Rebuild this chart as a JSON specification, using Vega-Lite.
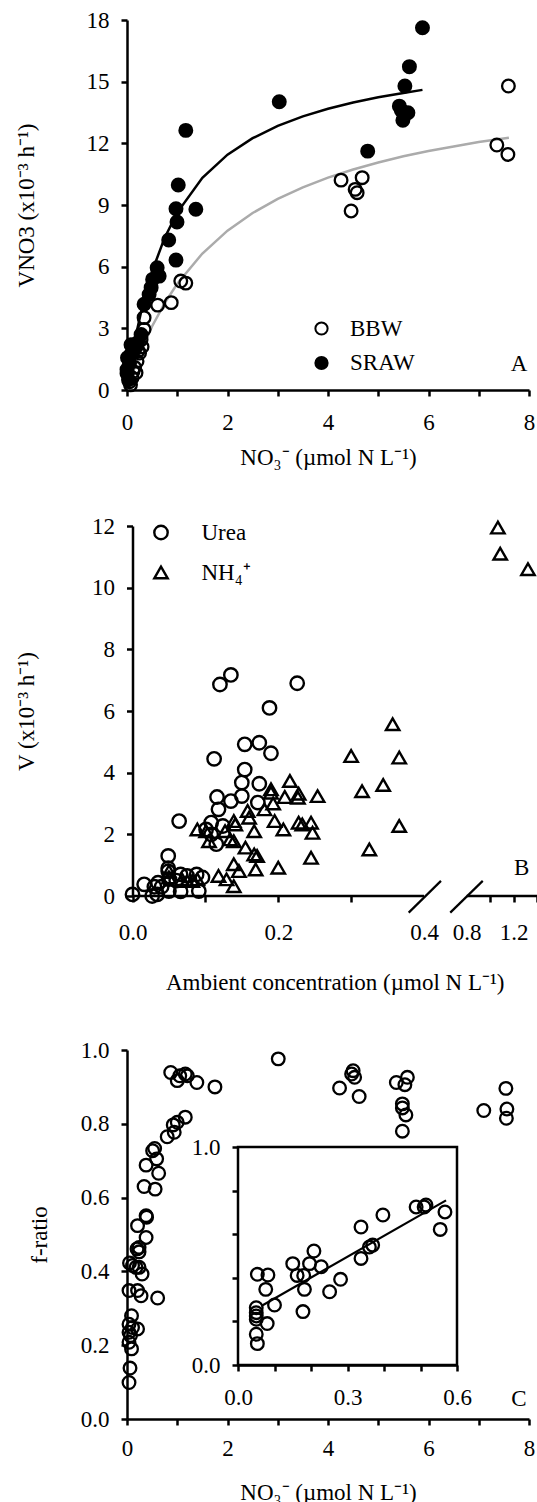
{
  "$schema": "https://vega.github.io/schema/vega-lite/v6.json",
  "padding": {"left": 15, "top": 9, "right": 0, "bottom": 0},
  "background": "white",
  "bounds": "flush",
  "spacing": 136,
  "resolve": {"legend": {"fill": "independent", "shape": "independent"}},
  "config": {
    "font": "Liberation Serif",
    "view": {"stroke": null},
    "axis": {"grid": false, "domainColor": "black", "domainWidth": 2.5, "tickColor": "black", "tickWidth": 2.5, "tickSize": 6,
      "labelFont": "Liberation Serif", "labelFontSize": 23, "labelColor": "black",
      "titleFont": "Liberation Serif", "titleFontSize": 23, "titleFontWeight": "normal", "titleColor": "black",
      "labelFlush": false, "labelOverlap": false},
    "legend": {"labelFont": "Liberation Serif", "labelFontSize": 23, "labelColor": "black"},
    "text": {"font": "Liberation Serif", "fontSize": 23, "color": "black"}
  },
  "datasets": {
    "A_pts": [
      {"series":"BBW","x":7.59,"y":14.79},{"series":"BBW","x":7.36,"y":11.92},{"series":"BBW","x":7.58,"y":11.46},{"series":"BBW","x":4.26,"y":10.21},
      {"series":"BBW","x":4.68,"y":10.33},{"series":"BBW","x":4.54,"y":9.76},{"series":"BBW","x":4.58,"y":9.6},{"series":"BBW","x":4.46,"y":8.71},
      {"series":"BBW","x":1.07,"y":5.3},{"series":"BBW","x":1.17,"y":5.2},{"series":"BBW","x":0.88,"y":4.25},{"series":"BBW","x":0.61,"y":4.13},
      {"series":"BBW","x":0.34,"y":3.52},{"series":"BBW","x":0.34,"y":2.95},{"series":"BBW","x":0.28,"y":2.45},{"series":"BBW","x":0.3,"y":2.1},
      {"series":"BBW","x":0.25,"y":1.8},{"series":"BBW","x":0.2,"y":1.4},{"series":"BBW","x":0.18,"y":0.84},{"series":"BBW","x":0.15,"y":1.1},
      {"series":"BBW","x":0.1,"y":0.6},{"series":"BBW","x":0.07,"y":0.25},{"series":"BBW","x":0.05,"y":0.4},{"series":"BBW","x":0.22,"y":1.9},
      {"series":"BBW","x":0.12,"y":0.9},
      {"series":"SRAW","x":5.88,"y":17.62},{"series":"SRAW","x":5.62,"y":15.73},{"series":"SRAW","x":5.53,"y":14.79},{"series":"SRAW","x":5.42,"y":13.81},
      {"series":"SRAW","x":5.59,"y":13.49},{"series":"SRAW","x":5.49,"y":13.12},{"series":"SRAW","x":5.46,"y":13.6},{"series":"SRAW","x":4.79,"y":11.62},
      {"series":"SRAW","x":3.03,"y":14.02},{"series":"SRAW","x":1.17,"y":12.63},{"series":"SRAW","x":1.02,"y":9.97},{"series":"SRAW","x":0.975,"y":8.82},
      {"series":"SRAW","x":1.37,"y":8.79},{"series":"SRAW","x":0.995,"y":8.17},{"series":"SRAW","x":0.83,"y":7.3},{"series":"SRAW","x":0.975,"y":6.32},
      {"series":"SRAW","x":0.6,"y":5.95},{"series":"SRAW","x":0.64,"y":5.54},{"series":"SRAW","x":0.51,"y":5.38},{"series":"SRAW","x":0.48,"y":4.98},
      {"series":"SRAW","x":0.44,"y":4.65},{"series":"SRAW","x":0.34,"y":4.17},{"series":"SRAW","x":0.28,"y":2.7},{"series":"SRAW","x":0.21,"y":2.3},
      {"series":"SRAW","x":0.15,"y":2.06},{"series":"SRAW","x":0.08,"y":2.2},{"series":"SRAW","x":0.08,"y":1.74},{"series":"SRAW","x":0.01,"y":1.57},
      {"series":"SRAW","x":0.05,"y":1.3},{"series":"SRAW","x":0.0,"y":1.0},{"series":"SRAW","x":0.0,"y":0.8},{"series":"SRAW","x":0.12,"y":1.9},
      {"series":"SRAW","x":0.18,"y":2.1},{"series":"SRAW","x":0.03,"y":0.5}
    ],
    "A_fit": [
      {"curve":"SRAW","x":0,"y":0},{"curve":"SRAW","x":0.05,"y":0.83},{"curve":"SRAW","x":0.1,"y":1.59},{"curve":"SRAW","x":0.2,"y":2.91},
      {"curve":"SRAW","x":0.3,"y":4.02},{"curve":"SRAW","x":0.5,"y":5.78},{"curve":"SRAW","x":0.75,"y":7.41},{"curve":"SRAW","x":1.0,"y":8.63},
      {"curve":"SRAW","x":1.5,"y":10.32},{"curve":"SRAW","x":2.0,"y":11.45},{"curve":"SRAW","x":2.5,"y":12.25},{"curve":"SRAW","x":3.0,"y":12.85},
      {"curve":"SRAW","x":3.5,"y":13.31},{"curve":"SRAW","x":4.0,"y":13.68},{"curve":"SRAW","x":4.5,"y":13.99},{"curve":"SRAW","x":5.0,"y":14.24},
      {"curve":"SRAW","x":5.5,"y":14.45},{"curve":"SRAW","x":5.88,"y":14.6},
      {"curve":"BBW","x":0,"y":0},{"curve":"BBW","x":0.1,"y":0.74},{"curve":"BBW","x":0.2,"y":1.41},{"curve":"BBW","x":0.3,"y":2.02},
      {"curve":"BBW","x":0.5,"y":3.1},{"curve":"BBW","x":0.75,"y":4.23},{"curve":"BBW","x":1.0,"y":5.17},{"curve":"BBW","x":1.5,"y":6.64},
      {"curve":"BBW","x":2.0,"y":7.75},{"curve":"BBW","x":2.5,"y":8.61},{"curve":"BBW","x":3.0,"y":9.3},{"curve":"BBW","x":3.5,"y":9.86},
      {"curve":"BBW","x":4.0,"y":10.33},{"curve":"BBW","x":4.5,"y":10.73},{"curve":"BBW","x":5.0,"y":11.07},{"curve":"BBW","x":5.5,"y":11.37},
      {"curve":"BBW","x":6.0,"y":11.63},{"curve":"BBW","x":6.5,"y":11.85},{"curve":"BBW","x":7.0,"y":12.06},{"curve":"BBW","x":7.6,"y":12.27}
    ],
    "B_pts": [
      {"nut":"Urea","x":0.0,"y":0.05},{"nut":"Urea","x":0.016,"y":0.38},{"nut":"Urea","x":0.027,"y":0.0},{"nut":"Urea","x":0.034,"y":0.05},
      {"nut":"Urea","x":0.03,"y":0.3},{"nut":"Urea","x":0.035,"y":0.43},{"nut":"Urea","x":0.049,"y":1.3},{"nut":"Urea","x":0.049,"y":0.9},
      {"nut":"Urea","x":0.049,"y":0.8},{"nut":"Urea","x":0.05,"y":0.55},{"nut":"Urea","x":0.05,"y":0.16},{"nut":"Urea","x":0.064,"y":2.43},
      {"nut":"Urea","x":0.066,"y":0.7},{"nut":"Urea","x":0.066,"y":0.15},{"nut":"Urea","x":0.075,"y":0.65},{"nut":"Urea","x":0.088,"y":0.7},
      {"nut":"Urea","x":0.096,"y":0.6},{"nut":"Urea","x":0.091,"y":0.16},{"nut":"Urea","x":0.112,"y":4.45},{"nut":"Urea","x":0.12,"y":6.86},
      {"nut":"Urea","x":0.135,"y":7.17},{"nut":"Urea","x":0.226,"y":6.9},{"nut":"Urea","x":0.188,"y":6.1},{"nut":"Urea","x":0.154,"y":4.92},
      {"nut":"Urea","x":0.174,"y":4.97},{"nut":"Urea","x":0.19,"y":4.63},{"nut":"Urea","x":0.154,"y":4.1},{"nut":"Urea","x":0.15,"y":3.68},
      {"nut":"Urea","x":0.174,"y":3.64},{"nut":"Urea","x":0.15,"y":3.24},{"nut":"Urea","x":0.116,"y":3.21},{"nut":"Urea","x":0.135,"y":3.08},
      {"nut":"Urea","x":0.118,"y":2.81},{"nut":"Urea","x":0.172,"y":3.03},{"nut":"Urea","x":0.108,"y":2.38},{"nut":"Urea","x":0.124,"y":2.27},
      {"nut":"Urea","x":0.115,"y":1.68},{"nut":"Urea","x":0.101,"y":2.16},{"nut":"Urea","x":0.108,"y":2.0},{"nut":"Urea","x":0.04,"y":0.3},
      {"nut":"Urea","x":0.06,"y":0.5},
      {"nut":"NH₄⁺","x":1.066,"y":11.95},{"nut":"NH₄⁺","x":1.086,"y":11.1},{"nut":"NH₄⁺","x":1.323,"y":10.6},
      {"nut":"NH₄⁺","x":0.357,"y":5.57},{"nut":"NH₄⁺","x":0.3,"y":4.54},{"nut":"NH₄⁺","x":0.366,"y":4.49},{"nut":"NH₄⁺","x":0.344,"y":3.6},
      {"nut":"NH₄⁺","x":0.315,"y":3.4},{"nut":"NH₄⁺","x":0.366,"y":2.27},{"nut":"NH₄⁺","x":0.325,"y":1.51},{"nut":"NH₄⁺","x":0.216,"y":3.73},
      {"nut":"NH₄⁺","x":0.228,"y":3.32},{"nut":"NH₄⁺","x":0.209,"y":3.21},{"nut":"NH₄⁺","x":0.254,"y":3.24},{"nut":"NH₄⁺","x":0.227,"y":3.19},
      {"nut":"NH₄⁺","x":0.19,"y":3.46},{"nut":"NH₄⁺","x":0.19,"y":3.35},{"nut":"NH₄⁺","x":0.193,"y":3.0},{"nut":"NH₄⁺","x":0.181,"y":2.81},
      {"nut":"NH₄⁺","x":0.195,"y":2.43},{"nut":"NH₄⁺","x":0.207,"y":2.16},{"nut":"NH₄⁺","x":0.228,"y":2.38},{"nut":"NH₄⁺","x":0.233,"y":2.32},
      {"nut":"NH₄⁺","x":0.245,"y":2.38},{"nut":"NH₄⁺","x":0.247,"y":2.05},{"nut":"NH₄⁺","x":0.245,"y":1.24},{"nut":"NH₄⁺","x":0.2,"y":0.92},
      {"nut":"NH₄⁺","x":0.167,"y":2.1},{"nut":"NH₄⁺","x":0.158,"y":2.76},{"nut":"NH₄⁺","x":0.16,"y":2.54},{"nut":"NH₄⁺","x":0.155,"y":1.57},
      {"nut":"NH₄⁺","x":0.167,"y":1.35},{"nut":"NH₄⁺","x":0.171,"y":1.3},{"nut":"NH₄⁺","x":0.169,"y":0.86},{"nut":"NH₄⁺","x":0.139,"y":2.43},
      {"nut":"NH₄⁺","x":0.141,"y":2.32},{"nut":"NH₄⁺","x":0.139,"y":1.03},{"nut":"NH₄⁺","x":0.146,"y":0.81},{"nut":"NH₄⁺","x":0.139,"y":0.32},
      {"nut":"NH₄⁺","x":0.118,"y":0.65},{"nut":"NH₄⁺","x":0.129,"y":0.54},{"nut":"NH₄⁺","x":0.089,"y":2.16},{"nut":"NH₄⁺","x":0.105,"y":1.78},
      {"nut":"NH₄⁺","x":0.101,"y":2.1},{"nut":"NH₄⁺","x":0.127,"y":2.1},{"nut":"NH₄⁺","x":0.134,"y":1.84},{"nut":"NH₄⁺","x":0.139,"y":1.78},
      {"nut":"NH₄⁺","x":0.05,"y":0.8},{"nut":"NH₄⁺","x":0.05,"y":0.6},{"nut":"NH₄⁺","x":0.068,"y":0.54},{"nut":"NH₄⁺","x":0.075,"y":0.49},
      {"nut":"NH₄⁺","x":0.082,"y":0.49},{"nut":"NH₄⁺","x":0.089,"y":0.54}
    ],
    "C_pts": [
      {"x":3.01,"f":0.976},{"x":0.87,"f":0.939},{"x":1.0,"f":0.917},{"x":1.05,"f":0.93},{"x":1.16,"f":0.935},{"x":1.2,"f":0.93},
      {"x":1.39,"f":0.912},{"x":1.75,"f":0.9},{"x":0.8,"f":0.765},{"x":0.92,"f":0.797},{"x":0.94,"f":0.777},{"x":1.0,"f":0.804},
      {"x":1.16,"f":0.818},{"x":0.51,"f":0.727},{"x":0.55,"f":0.733},{"x":0.59,"f":0.705},{"x":0.38,"f":0.688},{"x":0.63,"f":0.666},
      {"x":0.34,"f":0.63},{"x":0.56,"f":0.623},{"x":0.38,"f":0.551},{"x":0.39,"f":0.547},{"x":0.21,"f":0.524},{"x":0.38,"f":0.492},
      {"x":0.24,"f":0.465},{"x":0.2,"f":0.461},{"x":0.24,"f":0.453},{"x":0.05,"f":0.423},{"x":0.11,"f":0.416},{"x":0.18,"f":0.411},
      {"x":0.3,"f":0.393},{"x":0.24,"f":0.411},{"x":0.04,"f":0.348},{"x":0.21,"f":0.348},{"x":0.28,"f":0.334},{"x":0.61,"f":0.328},
      {"x":0.09,"f":0.28},{"x":0.04,"f":0.257},{"x":0.11,"f":0.248},{"x":0.21,"f":0.244},{"x":0.04,"f":0.235},{"x":0.07,"f":0.226},
      {"x":0.04,"f":0.208},{"x":0.09,"f":0.19},{"x":0.06,"f":0.138},{"x":0.04,"f":0.099},{"x":4.23,"f":0.897},{"x":4.47,"f":0.935},
      {"x":4.5,"f":0.944},{"x":4.53,"f":0.926},{"x":4.62,"f":0.874},{"x":5.36,"f":0.912},{"x":5.53,"f":0.906},{"x":5.58,"f":0.926},
      {"x":5.48,"f":0.854},{"x":5.48,"f":0.843},{"x":5.55,"f":0.824},{"x":5.48,"f":0.78},{"x":7.1,"f":0.836},{"x":7.54,"f":0.896},
      {"x":7.56,"f":0.84},{"x":7.55,"f":0.815}
    ],
    "C_inset": [
      {"x":0.053,"f":0.416},{"x":0.082,"f":0.413},{"x":0.076,"f":0.347},{"x":0.05,"f":0.263},{"x":0.05,"f":0.24},{"x":0.05,"f":0.225},
      {"x":0.05,"f":0.21},{"x":0.08,"f":0.19},{"x":0.05,"f":0.141},{"x":0.053,"f":0.098},{"x":0.1,"f":0.275},{"x":0.15,"f":0.465},
      {"x":0.162,"f":0.411},{"x":0.18,"f":0.411},{"x":0.196,"f":0.465},{"x":0.208,"f":0.523},{"x":0.228,"f":0.451},{"x":0.182,"f":0.347},
      {"x":0.178,"f":0.245},{"x":0.251,"f":0.336},{"x":0.281,"f":0.393},{"x":0.337,"f":0.633},{"x":0.337,"f":0.489},{"x":0.36,"f":0.541},
      {"x":0.369,"f":0.55},{"x":0.397,"f":0.688},{"x":0.488,"f":0.725},{"x":0.51,"f":0.725},{"x":0.515,"f":0.734},{"x":0.567,"f":0.702},
      {"x":0.554,"f":0.622}
    ],
    "C_fit": [{"x":0.064,"f":0.271},{"x":0.57,"f":0.755}]
  },
  "vconcat": [
    {
      "width": 402, "height": 370,
      "layer": [
        {
          "data": {"name": "A_fit"},
          "mark": {"type": "line", "strokeWidth": 2.5},
          "encoding": {
            "x": {"field": "x", "type": "quantitative", "scale": {"domain": [0, 8], "nice": false},
              "axis": {"values": [0,1,2,3,4,5,6,7,8], "labelExpr": "datum.value % 2 == 0 ? datum.label : ''", "labelPadding": 15, "titlePadding": 12, "title": "NO₃⁻ (µmol N L⁻¹)"}},
            "y": {"field": "y", "type": "quantitative", "scale": {"domain": [0, 18], "nice": false},
              "axis": {"values": [0,3,6,9,12,15,18], "labelPadding": 12, "titlePadding": 48, "title": "VNO3 (x10⁻³ h⁻¹)"}},
            "stroke": {"field": "curve", "type": "nominal", "scale": {"domain": ["BBW", "SRAW"], "range": ["#ababab", "#000000"]}, "legend": null}
          }
        },
        {
          "data": {"name": "A_pts"},
          "mark": {"type": "point", "shape": "circle", "stroke": "black", "strokeWidth": 2.3, "size": 160, "opacity": 1},
          "encoding": {
            "x": {"field": "x", "type": "quantitative"},
            "y": {"field": "y", "type": "quantitative"},
            "fill": {"field": "series", "type": "nominal", "scale": {"domain": ["BBW", "SRAW"], "range": ["transparent", "black"]},
              "legend": {"orient": "none", "legendX": 183, "legendY": 297, "title": null, "symbolType": "circle", "symbolSize": 150,
                "symbolStrokeColor": "black", "symbolStrokeWidth": 2, "symbolOpacity": 1, "labelOffset": 17, "rowPadding": 10.5, "padding": 0}}
          }
        },
        {
          "data": {"values": [{}]},
          "mark": {"type": "text", "align": "center", "baseline": "middle"},
          "encoding": {"x": {"datum": 7.8}, "y": {"datum": 1.25}, "text": {"value": "A"}}
        }
      ]
    },
    {
      "width": 410, "height": 370,
      "layer": [
        {
          "data": {"name": "B_pts"},
          "mark": {"type": "point", "filled": false, "color": "black", "strokeWidth": 2.4, "size": 180, "opacity": 1},
          "encoding": {
            "x": {"field": "x", "type": "quantitative",
              "scale": {"domain": [0, 0.4, 0.8, 1.4], "range": [5.5, 297, 339.7, 410], "nice": false, "zero": false},
              "axis": {"values": [0, 0.1, 0.2, 0.3, 0.4, 0.8, 1, 1.2, 1.4], "format": ".1f", "domain": false,
                "labelExpr": "(datum.value == 0 || datum.value == 0.2 || datum.value == 0.4 || datum.value == 0.8 || datum.value == 1.2) ? datum.label : ''",
                "tickOpacity": {"condition": {"test": "datum.value == 0.4 || datum.value == 0.8", "value": 0}, "value": 1},
                "labelPadding": 19, "titlePadding": 27, "title": "Ambient concentration (µmol N L⁻¹)"}},
            "y": {"field": "y", "type": "quantitative", "scale": {"domain": [0, 12], "nice": false},
              "axis": {"values": [0,1,2,3,4,5,6,7,8,9,10,11,12], "labelExpr": "datum.value % 2 == 0 ? datum.label : ''", "offset": -5.5,
                "labelPadding": 12, "titlePadding": 53, "title": "V (x10⁻³ h⁻¹)"}},
            "shape": {"field": "nut", "type": "nominal", "scale": {"domain": ["Urea", "NH₄⁺"], "range": ["circle", "triangle-up"]},
              "legend": {"orient": "none", "legendX": 22.5, "legendY": -5, "title": null, "symbolSize": 180, "symbolStrokeColor": "black",
                "symbolStrokeWidth": 2.4, "symbolFillColor": "transparent", "symbolOpacity": 1, "labelOffset": 29, "rowPadding": 16, "padding": 0}}
          }
        },
        {
          "data": {"values": [{}]},
          "mark": {"type": "rule", "color": "black", "strokeWidth": 2.5},
          "encoding": {"x": {"datum": 0}, "x2": {"datum": 0.4}, "y": {"datum": 0}}
        },
        {
          "data": {"values": [{}]},
          "mark": {"type": "rule", "color": "black", "strokeWidth": 2.5},
          "encoding": {"x": {"datum": 0.8}, "x2": {"datum": 1.4}, "y": {"datum": 0}}
        },
        {
          "data": {"values": [{}]},
          "mark": {"type": "rule", "color": "black", "strokeWidth": 2.2},
          "encoding": {"x": {"datum": 0.379}, "x2": {"datum": 0.559}, "y": {"datum": -0.54}, "y2": {"datum": 0.49}}
        },
        {
          "data": {"values": [{}]},
          "mark": {"type": "rule", "color": "black", "strokeWidth": 2.2},
          "encoding": {"x": {"datum": 0.646}, "x2": {"datum": 0.937}, "y": {"datum": -0.54}, "y2": {"datum": 0.49}}
        },
        {
          "data": {"values": [{}]},
          "mark": {"type": "text", "align": "center", "baseline": "middle"},
          "encoding": {"x": {"datum": 1.27}, "y": {"datum": 0.91}, "text": {"value": "B"}}
        }
      ]
    },
    {
      "width": 402, "height": 387,
      "layer": [
        {
          "layer": [
            {
              "data": {"name": "C_pts"},
              "mark": {"type": "point", "filled": false, "color": "black", "strokeWidth": 2.3, "size": 160, "opacity": 1},
              "encoding": {
                "x": {"field": "x", "type": "quantitative", "scale": {"domain": [0, 8], "nice": false},
                  "axis": {"orient": "bottom", "values": [0,1,2,3,4,5,6,7,8], "labelExpr": "datum.value % 2 == 0 ? datum.label : ''", "labelPadding": 12, "titlePadding": 21, "title": "NO₃⁻ (µmol N L⁻¹)"}},
                "y": {"field": "f", "type": "quantitative", "scale": {"domain": [0, 1], "nice": false, "range": [387, 18]},
                  "axis": {"orient": "left", "values": [0,0.1,0.2,0.3,0.4,0.5,0.6,0.7,0.8,0.9,1], "format": ".1f",
                    "labelExpr": "round(datum.value * 10) % 2 == 0 ? datum.label : ''", "labelPadding": 12, "titlePadding": 29, "title": "f-ratio"}}
              }
            },
            {
              "data": {"values": [{}]},
              "mark": {"type": "text", "align": "center", "baseline": "middle"},
              "encoding": {"x": {"datum": 7.8}, "y": {"datum": 0.054}, "text": {"value": "C"}}
            }
          ]
        },
        {
          "layer": [
            {
              "data": {"values": [{}]},
              "mark": {"type": "rect", "fill": "white", "stroke": "black", "strokeWidth": 2.5},
              "encoding": {"x": {"datum": 0}, "x2": {"datum": 0.6}, "y": {"datum": 0}, "y2": {"datum": 1}}
            },
            {
              "data": {"name": "C_inset"},
              "mark": {"type": "point", "filled": false, "color": "black", "strokeWidth": 2.3, "size": 160, "opacity": 1},
              "encoding": {
                "x": {"field": "x", "type": "quantitative", "scale": {"domain": [0, 0.6], "nice": false, "range": [111, 330]},
                  "axis": {"orient": "bottom", "offset": -54, "values": [0,0.1,0.2,0.3,0.4,0.5,0.6], "format": ".1f",
                    "labelExpr": "round(datum.value * 10) % 3 == 0 ? datum.label : ''", "labelPadding": 15, "title": null}},
                "y": {"field": "f", "type": "quantitative", "scale": {"domain": [0, 1], "nice": false, "range": [333, 115]},
                  "axis": {"orient": "left", "offset": -111, "values": [0,0.1,0.2,0.3,0.4,0.5,0.6,0.7,0.8,0.9,1], "format": ".1f",
                    "labelExpr": "round(datum.value * 10) % 5 == 0 ? datum.label : ''", "labelPadding": 12, "title": null}}
              }
            },
            {
              "data": {"name": "C_fit"},
              "mark": {"type": "line", "color": "black", "strokeWidth": 2.2},
              "encoding": {"x": {"field": "x", "type": "quantitative"}, "y": {"field": "f", "type": "quantitative"}}
            }
          ]
        }
      ],
      "resolve": {"scale": {"x": "independent", "y": "independent"}, "axis": {"x": "independent", "y": "independent"}}
    }
  ]
}
